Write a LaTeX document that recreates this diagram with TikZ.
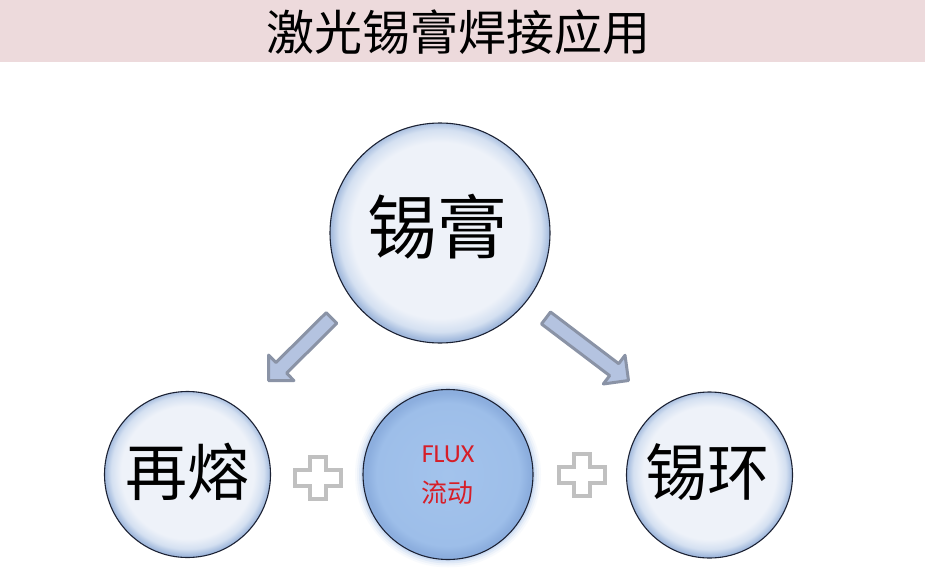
\documentclass[tikz,border=0pt]{standalone}
\usepackage{fontspec}
\newfontfamily\cjk{Noto Sans CJK SC}
\newfontfamily\latinsans{Carlito}
\usetikzlibrary{calc}
\definecolor{titlebg}{RGB}{237,218,220}
\definecolor{bubin}{RGB}{238,242,249}
\definecolor{bubmid}{RGB}{212,224,241}
\definecolor{bubedge}{RGB}{160,184,220}
\definecolor{bubline}{RGB}{28,34,52}
\definecolor{midin}{RGB}{163,195,236}
\definecolor{midmid}{RGB}{157,190,233}
\definecolor{midedge}{RGB}{140,174,222}
\definecolor{glowc}{RGB}{150,185,232}
\definecolor{arrfill}{RGB}{180,195,224}
\definecolor{arrline}{RGB}{138,147,166}
\definecolor{plusgray}{RGB}{192,192,192}
\definecolor{fluxred}{RGB}{214,30,40}
\pgfdeclareradialshading{bubble}{\pgfpoint{0bp}{1bp}}{color(0bp)=(bubin); color(20bp)=(bubin); color(23bp)=(bubmid); color(25bp)=(bubedge); color(50bp)=(bubedge)}
\pgfdeclareradialshading{midbubble}{\pgfpoint{0bp}{0bp}}{color(0bp)=(midin); color(21bp)=(midmid); color(24bp)=(midedge); color(25bp)=(midedge); color(50bp)=(midedge)}
\tikzset{
  bubblenode/.style={circle, draw=bubline, line width=1.1pt, shade, shading=bubble, inner sep=0pt},
  midnode/.style={circle, draw=bubline, line width=1.1pt, shade, shading=midbubble, inner sep=0pt},
  bigtext/.style={inner sep=0pt, font=\cjk\fontsize{70}{70}\selectfont},
  smalltext/.style={inner sep=0pt, font=\cjk\fontsize{62}{62}\selectfont},
  titletext/.style={inner sep=0pt, font=\cjk\fontsize{48}{48}\selectfont},
  fluxtext/.style={inner sep=0pt, text=fluxred, font=\latinsans\fontsize{26}{26}\selectfont},
  fluxcjk/.style={inner sep=0pt, text=fluxred, font=\cjk\fontsize{26}{26}\selectfont},
  blockarrow/.style={fill=arrfill, draw=arrline, line width=3pt, line join=round},
  plusstyle/.style={fill=white, draw=plusgray, line width=3.5pt, line join=miter}
}
\newcommand\blockarr[2]{%
  \coordinate (#1n) at ($(#2)!18pt!(#1)$);
  \filldraw[blockarrow] ($(#1)!7.5pt!90:(#2)$) -- ($(#1n)!7.5pt!90:(#2)$) -- ($(#1n)!18pt!90:(#2)$) -- (#2)
     -- ($(#1n)!18pt!-90:(#2)$) -- ($(#1n)!7.5pt!-90:(#2)$) -- ($(#1)!7.5pt!-90:(#2)$) -- cycle;}
\newcommand\plussign[1]{%
  \draw[plusstyle] ($(#1)+(-8,-21)$) -- ++(16,0) -- ++(0,13) -- ++(15,0) -- ++(0,16) -- ++(-15,0)
     -- ++(0,13) -- ++(-16,0) -- ++(0,-13) -- ++(-15,0) -- ++(0,-16) -- ++(15,0) -- cycle;}
\begin{document}
\begin{tikzpicture}[x=1pt,y=-1pt]
\useasboundingbox (0,0) rectangle (925,567);
\fill[white] (0,0) rectangle (925,567);
\node[fill=titlebg, minimum width=925pt, minimum height=62pt, inner sep=0pt, anchor=north west] (band) at (0,0) {};
\node[titletext] (title) at (458,32) {激光锡膏焊接应用};
% bubbles
\node[bubblenode, minimum size=220pt] (top) at (440,233) {};
\node[bubblenode, minimum size=166pt] (left) at (187.5,474.5) {};
\node[bubblenode, minimum size=166pt] (right) at (709.5,475) {};
\coordinate (midc) at (448,474.5);
\foreach \r/\o in {93/0.06,91/0.10,89/0.16,87/0.25}{\fill[glowc, opacity=\o] (midc) circle (\r pt);}
\node[midnode, minimum size=170pt] (mid) at (midc) {};
% texts
\node[bigtext] (ttop) at (437,227) {锡膏};
\node[smalltext] (tleft) at (187.5,472) {再熔};
\node[smalltext] (tright) at (707.5,472) {锡环};
\node[fluxtext] (flux) at (448,454) {FLUX};
\node[fluxcjk] (flow) at (447.5,493) {流动};
% arrows
\coordinate (aLs) at (331.5,318);
\coordinate (aLe) at (268.5,380.5);
\coordinate (aRs) at (546,318);
\coordinate (aRe) at (628.5,380.5);
\blockarr{aLs}{aLe}
\blockarr{aRs}{aRe}
% plus signs
\coordinate (plusL) at (318,478);
\coordinate (plusR) at (582,475);
\plussign{plusL}
\plussign{plusR}
\end{tikzpicture}
\end{document}
